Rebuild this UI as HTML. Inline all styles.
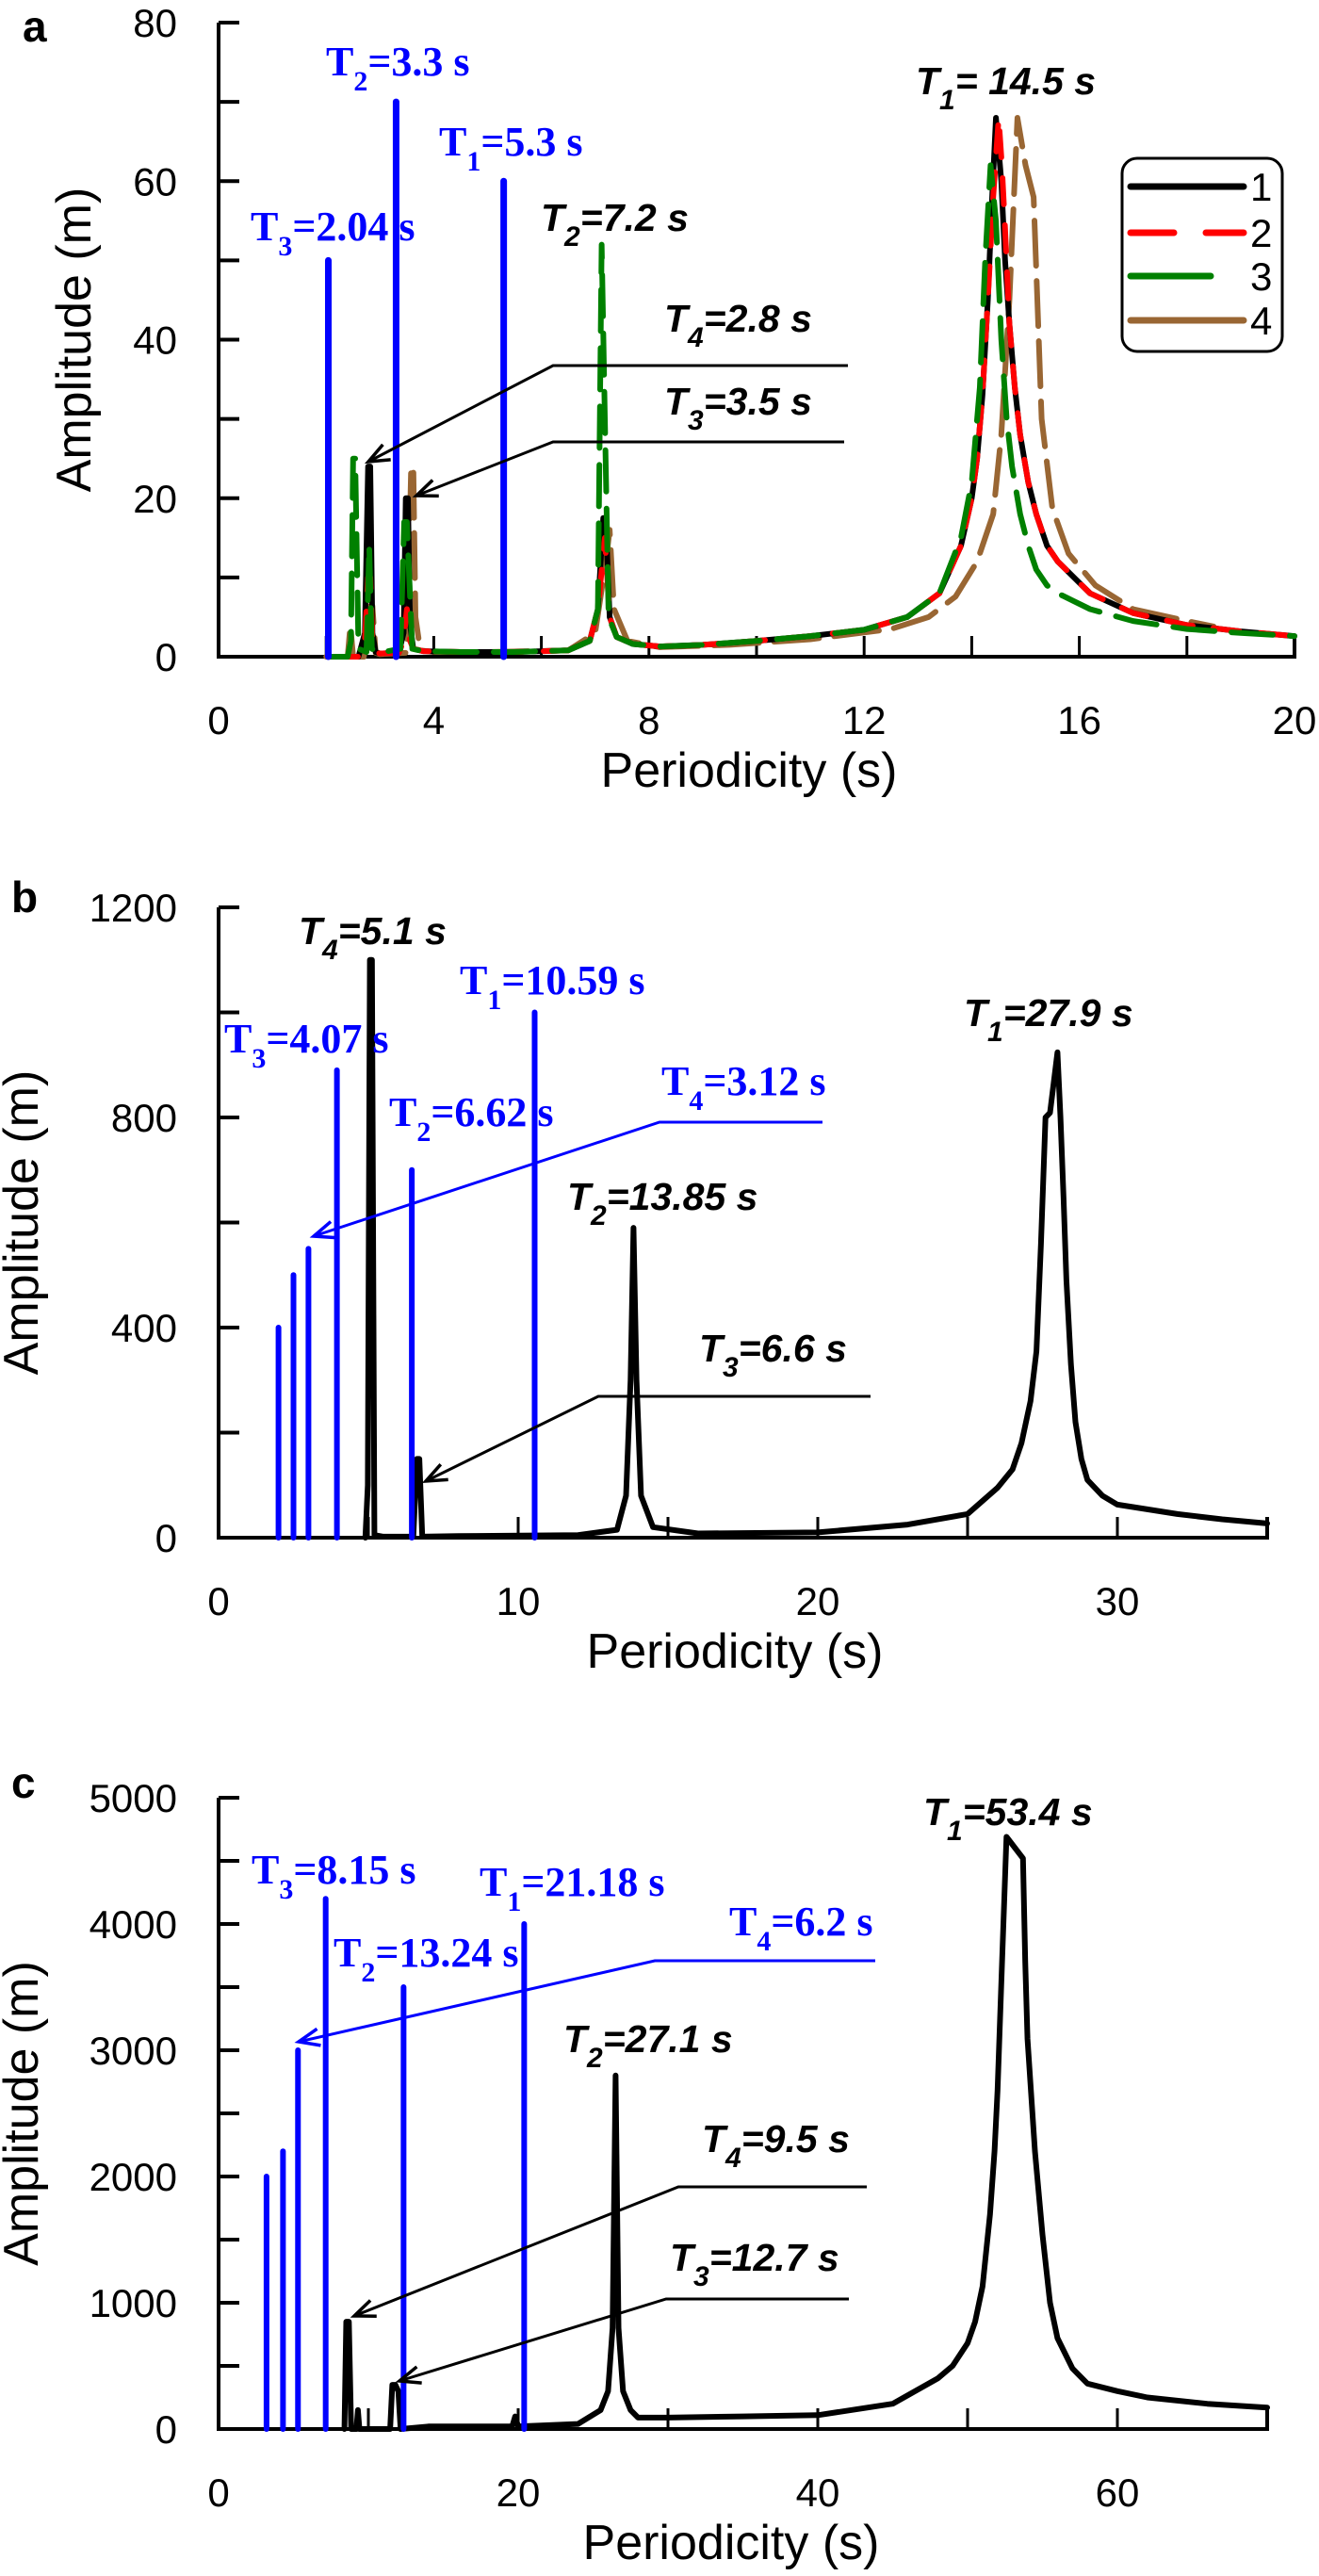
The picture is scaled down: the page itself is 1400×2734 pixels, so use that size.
<!DOCTYPE html>
<html><head><meta charset="utf-8"><title>Amplitude vs Periodicity</title>
<style>
html,body{margin:0;padding:0;background:#fff;}
svg{display:block;}
.tick{font-family:"Liberation Sans",sans-serif;font-size:42px;fill:#000;}
.title{font-family:"Liberation Sans",sans-serif;font-size:52px;fill:#000;}
.blab{font-family:"Liberation Serif",serif;font-weight:bold;font-size:44px;fill:#0000ff;}
.klab{font-family:"Liberation Sans",sans-serif;font-weight:bold;font-style:italic;font-size:41px;fill:#000;}
.plet{font-family:"Liberation Sans",sans-serif;font-weight:bold;font-size:46px;fill:#000;}
</style></head>
<body>
<svg id="fig" width="1400" height="2734" viewBox="0 0 1400 2734" xmlns="http://www.w3.org/2000/svg"></svg>
<script>
// ---------- Panel a data ----------
const aBlueP = [2.04, 3.3, 5.3];
const aBlueA = [50, 70, 60];
const a1P = [2.1,2.6,2.72,2.78,2.82,2.86,2.92,3.0,3.35,3.44,3.48,3.52,3.56,3.62,3.8,4.5,5.5,6.5,6.9,7.05,7.15,7.2,7.27,7.4,7.7,8.2,9,10,11,12,12.8,13.4,13.8,14.0,14.1,14.2,14.3,14.38,14.45,14.5,14.55,14.62,14.7,14.8,14.9,15.05,15.2,15.4,15.6,15.9,16.2,17,18,19,20];
const a1A = [0,0,3,24,24,3,0.6,0.4,0.5,3,20,20,4,1,0.7,0.6,0.6,0.8,2,6,17.5,17,5,2.5,1.6,1.3,1.5,2,2.6,3.4,5,8,14,20,25,33,45,58,68,64,60,50,42,34,28,22,18,14,12,10,8,5.5,4,3.2,2.6];
const a2P = [2.1,2.6,2.72,2.78,2.82,2.86,2.92,3.0,3.35,3.44,3.5,3.56,3.62,3.8,4.5,5.5,6.5,6.9,7.05,7.18,7.27,7.4,7.7,8.2,9,10,11,12,12.8,13.4,13.8,14.0,14.1,14.2,14.3,14.4,14.5,14.56,14.62,14.7,14.8,14.9,15.05,15.2,15.4,15.6,15.9,16.2,17,18,19,20];
const a2A = [0,0,2,10,10,2,0.6,0.4,0.5,2,6,2,1,0.7,0.6,0.6,0.8,2,6,15,5,2.5,1.6,1.3,1.5,2,2.6,3.4,5,8,14,20,25,33,45,58,68,62,54,42,34,28,22,18,14,12,10,8,5.5,4,3.2,2.6];
const a3P = [2.1,2.4,2.46,2.5,2.54,2.6,2.75,2.8,2.85,3.0,3.38,3.45,3.5,3.6,3.8,4.5,5.5,6.5,6.9,7.05,7.12,7.18,7.25,7.4,7.7,8.2,9,10,11,12,12.8,13.4,13.8,14.0,14.15,14.25,14.35,14.45,14.55,14.65,14.75,14.9,15.05,15.2,15.4,15.6,16.2,17,18,19,20];
const a3A = [0,0,2,25,25,1,0.6,14,1,0.5,1,17,17,1,0.7,0.6,0.6,0.8,2,6,52,30,5,2.5,1.6,1.3,1.5,2,2.6,3.4,5,8,15,22,34,50,62,55,40,30,24,18,14,11,9,8,6,4.5,3.5,3,2.6];
const a4P = [2.0,2.4,2.45,2.5,2.7,2.82,2.86,2.92,3.0,3.5,3.58,3.62,3.66,3.75,4.0,5.0,6.5,7.0,7.2,7.27,7.35,7.6,8.2,9.5,11,12.5,13.2,13.7,14.1,14.4,14.55,14.7,14.85,15.0,15.15,15.3,15.5,15.8,16.3,17,18,18.5];
const a4A = [0,0,4,0,0,6.4,6.4,0.5,0.3,0.5,24,24,5,0.8,0.6,0.6,0.8,3,12,16,6,2,1.2,1.5,2.2,3.5,5,7.6,12,18,28,45,68,62,58,30,18.7,13,9,6,4.5,3.8];

// ---------- Panel b data ----------
const bBlueP = [2.0, 2.5, 3.0, 3.95, 6.45, 10.55];
const bBlueA = [400, 500, 550, 890, 700, 1000];
const bP = [4.9,4.98,5.05,5.12,5.2,5.5,6.5,6.62,6.7,6.8,8,12,13.3,13.6,13.75,13.85,13.95,14.1,14.5,16,20,23,25,26,26.5,26.8,27.1,27.3,27.45,27.6,27.75,28.0,28.1,28.2,28.3,28.45,28.6,28.8,29,29.5,30,32,33.5,35];
const bA = [0,100,1100,1100,5,2,2,150,150,2,3,5,15,80,300,590,300,80,20,8,10,25,45,95,130,180,260,355,560,800,809,924,800,650,490,330,220,150,110,80,63,45,35,27];

// ---------- Panel c data ----------
const cBlueP = [3.2, 4.3, 5.3, 7.15, 12.35, 20.4];
const cBlueA = [2000, 2200, 3000, 4200, 3500, 4000];
const cP = [8.4,8.52,8.7,8.85,9.2,9.3,9.4,11.45,11.6,11.8,12.0,12.15,14,19.6,19.8,20,24,25.5,26.0,26.3,26.5,26.7,27.0,27.5,28,30,35,40,45,48,49,50,50.5,51,51.5,51.8,52,52.3,52.6,53.7,53.85,54,54.5,55,55.5,56,57,58,60,62,66,70];
const cA = [0,850,850,0,0,150,0,0,350,350,300,0,20,20,100,20,40,150,300,800,2800,800,300,150,90,90,100,110,200,400,500,680,850,1130,1700,2200,2680,3700,4690,4520,3700,3090,2200,1540,1000,720,480,360,300,250,200,170];

// tick label arrays
const aXTicks = [0,4,8,12,16,20];
const aYTicks = [0,20,40,60,80];
const bXTicks = [0,10,20,30];
const bYTicks = [0,400,800,1200];
const cXTicks = [0,20,40,60];
const cYTicks = [0,1000,2000,3000,4000,5000];

const NS = "http://www.w3.org/2000/svg";
const svg = document.getElementById('fig');
function el(tag, attrs, parent, txt){
  const e = document.createElementNS(NS, tag);
  for (const k in attrs) e.setAttribute(k, attrs[k]);
  if (txt !== undefined) e.textContent = txt;
  (parent || svg).appendChild(e);
  return e;
}
function mkScale(d0,d1,r0,r1){ return v => r0 + (v-d0)*(r1-r0)/(d1-d0); }

function axes(g, P){
  const ax = el('polyline',{points:`${P.x0},${P.y1} ${P.x0},${P.y0} ${P.x1},${P.y0} ${P.x1},${P.y0-22}`,fill:'none',stroke:'#000','stroke-width':4}, g);
  
  
  for (let v=0; v<=P.ymax+1e-9; v+=P.ystep){
    const y = P.ys(v);
    const t = el('line',{x1:P.x0,y1:y,x2:P.x0+22,y2:y,stroke:'#000','stroke-width':4}, g);
    
    
  }
  for (let v=P.xstep; v<P.xmax-1e-9; v+=P.xstep){
    const x = P.xs(v);
    const t = el('line',{x1:x,y1:P.y0,x2:x,y2:P.y0-22,stroke:'#000','stroke-width':3}, g);
    
    
  }
  P.yTicks.forEach(v=>{
    const t = el('text',{x:188,y:P.ys(v)+15,'text-anchor':'end',class:'tick'}, g, String(v));
    
    
  });
  P.xTicks.forEach(v=>{
    const t = el('text',{x:P.xs(v),y:P.y0+82,'text-anchor':'middle',class:'tick'}, g, String(v));
    
    
  });
  const xt = el('text',{x:P.xtc,y:P.y0+138,'text-anchor':'middle',class:'title'}, g, 'Periodicity (s)');
  
  
  const cy = (P.y0+P.y1)/2;
  const yt = el('text',{x:P.ytx,y:cy,'text-anchor':'middle',class:'title',transform:`rotate(-90 ${P.ytx} ${cy})`}, g, 'Amplitude (m)');
  
  
  const pl = el('text',{x:P.lx,y:P.ly,class:'plet'}, g, P.letter);
  
  
}
function bars(g, P, xs, as, w){
  xs.forEach((p,i)=>{
    const b = el('line',{x1:P.xs(p),x2:P.xs(p),y1:P.y0,y2:P.ys(as[i]),stroke:'#0000ff','stroke-width':w,'stroke-linecap':'round'}, g);
    
    
  });
}
function curve(g, P, xs, as, color, w, dash, name){
  const pts = xs.map((p,i)=>`${P.xs(p).toFixed(1)},${P.ys(as[i]).toFixed(1)}`).join(' ');
  const a = {points:pts,fill:'none',stroke:color,'stroke-width':w,'stroke-linejoin':'round','stroke-linecap':'round'};
  if (dash) a['stroke-dasharray'] = dash;
  const c = el('polyline', a, g);
  
  
}
function label(g, x, y, cls, main, sub, rest, name){
  const t = el('text',{x:x,y:y,class:cls}, g);
  
  
  el('tspan',{}, t, main);
  el('tspan',{dy:16,'font-size':30}, t, sub);
  el('tspan',{dy:-16}, t, rest);
}
function arrow(g, pts, tip, from, color, name){
  const p = el('polyline',{points:pts.map(q=>q.join(',')).join(' ')+' '+tip.join(','),fill:'none',stroke:color,'stroke-width':3}, g);
  
  
  const dx = from[0]-tip[0], dy = from[1]-tip[1], L = Math.hypot(dx,dy);
  const ux = dx/L, uy = dy/L, s = 22, h = 9;
  const hp = `${tip[0]+ux*s-uy*h},${tip[1]+uy*s+ux*h} ${tip[0]},${tip[1]} ${tip[0]+ux*s+uy*h},${tip[1]+uy*s-ux*h}`;
  const hd = el('polyline',{points:hp,fill:'none',stroke:color,'stroke-width':3.5}, g);
  
  
}

// ---------- Panel a ----------
const gA = el('g',{});  
const PA = {x0:232,x1:1374,y0:697,y1:24,xmax:20,ymax:80,xstep:2,ystep:10,xTicks:aXTicks,yTicks:aYTicks,xtc:795,ytx:96,letter:'a',lx:24,ly:44};
PA.xs = mkScale(0,20,232,1374); PA.ys = mkScale(0,80,697,24);
axes(gA, PA);
curve(gA, PA, a4P, a4A, '#996633', 6, '48 16', 'series-4-curve');
curve(gA, PA, a1P, a1A, '#000', 6, null, 'series-1-curve');
curve(gA, PA, a2P, a2A, '#ff0000', 6, '28 22', 'series-2-curve');
curve(gA, PA, a3P, a3A, '#008000', 6, '44 18', 'series-3-curve');
bars(gA, PA, aBlueP, aBlueA, 7);
label(gA, 266, 255, 'blab', 'T', '3', '=2.04 s', 'label-a-t3-blue');
label(gA, 346, 80, 'blab', 'T', '2', '=3.3 s', 'label-a-t2-blue');
label(gA, 466, 165, 'blab', 'T', '1', '=5.3 s', 'label-a-t1-blue');
label(gA, 574, 245, 'klab', 'T', '2', '=7.2 s', 'label-a-t2');
label(gA, 705, 352, 'klab', 'T', '4', '=2.8 s', 'label-a-t4');
label(gA, 705, 440, 'klab', 'T', '3', '=3.5 s', 'label-a-t3');
label(gA, 972, 100, 'klab', 'T', '1', '= 14.5 s', 'label-a-t1');
arrow(gA, [[900,388],[587,388]], [391,490], [587,388], '#000', 'arrow-a-t4');
arrow(gA, [[896,469],[587,469]], [442,526], [587,469], '#000', 'arrow-a-t3');
// legend
const lg = el('g',{}, gA);  
el('rect',{x:1191,y:168,width:170,height:205,rx:16,fill:'#fff',stroke:'#000','stroke-width':3}, lg);
const legC = ['#000','#ff0000','#008000','#996633'];
const legD = [null,'46 34',null,null];
const legEnd = [1320,1320,1285,1320];
const legY = [198,247,293,340];
legC.forEach((c,i)=>{
  const a = {x1:1200,x2:legEnd[i],y1:legY[i],y2:legY[i],stroke:c,'stroke-width':7,'stroke-linecap':'round'};
  if (legD[i]) a['stroke-dasharray'] = legD[i];
  const l = el('line',a,lg);
  
  
  const t = el('text',{x:1327,y:legY[i]+15,class:'tick'},lg,String(i+1));
  
  
});

// ---------- Panel b ----------
const gB = el('g',{});  
const PB = {x0:232,x1:1345,y0:1632,y1:963,xmax:35,ymax:1200,xstep:5,ystep:200,xTicks:bXTicks,yTicks:bYTicks,xtc:780,ytx:40,letter:'b',lx:12,ly:968};
PB.xs = mkScale(0,35,232,1345); PB.ys = mkScale(0,1200,1632,963);
axes(gB, PB);
curve(gB, PB, bP, bA, '#000', 6, null, 'response-curve-b');
bars(gB, PB, bBlueP, bBlueA, 6);
label(gB, 317, 1002, 'klab', 'T', '4', '=5.1 s', 'label-b-t4');
label(gB, 238, 1117, 'blab', 'T', '3', '=4.07 s', 'label-b-t3-blue');
label(gB, 413, 1195, 'blab', 'T', '2', '=6.62 s', 'label-b-t2-blue');
label(gB, 488, 1055, 'blab', 'T', '1', '=10.59 s', 'label-b-t1-blue');
label(gB, 702, 1162, 'blab', 'T', '4', '=3.12 s', 'label-b-t4-blue');
label(gB, 602, 1284, 'klab', 'T', '2', '=13.85 s', 'label-b-t2');
label(gB, 742, 1445, 'klab', 'T', '3', '=6.6 s', 'label-b-t3');
label(gB, 1023, 1089, 'klab', 'T', '1', '=27.9 s', 'label-b-t1');
arrow(gB, [[873,1191],[700,1191]], [333,1312], [700,1191], '#0000ff', 'arrow-b-t4');
arrow(gB, [[924,1482],[635,1482]], [452,1572], [635,1482], '#000', 'arrow-b-t3');

// ---------- Panel c ----------
const gC = el('g',{});  
const PC = {x0:232,x1:1345,y0:2578,y1:1908,xmax:70,ymax:5000,xstep:10,ystep:500,xTicks:cXTicks,yTicks:cYTicks,xtc:776,ytx:40,letter:'c',lx:12,ly:1908};
PC.xs = mkScale(0,70,232,1345); PC.ys = mkScale(0,5000,2578,1908);
axes(gC, PC);
curve(gC, PC, cP, cA, '#000', 6, null, 'response-curve-c');
bars(gC, PC, cBlueP, cBlueA, 6);
label(gC, 267, 1999, 'blab', 'T', '3', '=8.15 s', 'label-c-t3-blue');
label(gC, 509, 2012, 'blab', 'T', '1', '=21.18 s', 'label-c-t1-blue');
label(gC, 354, 2087, 'blab', 'T', '2', '=13.24 s', 'label-c-t2-blue');
label(gC, 774, 2054, 'blab', 'T', '4', '=6.2 s', 'label-c-t4-blue');
label(gC, 598, 2178, 'klab', 'T', '2', '=27.1 s', 'label-c-t2');
label(gC, 745, 2284, 'klab', 'T', '4', '=9.5 s', 'label-c-t4');
label(gC, 711, 2410, 'klab', 'T', '3', '=12.7 s', 'label-c-t3');
label(gC, 980, 1937, 'klab', 'T', '1', '=53.4 s', 'label-c-t1');
arrow(gC, [[929,2081],[695,2081]], [317,2167], [695,2081], '#0000ff', 'arrow-c-t4-blue');
arrow(gC, [[920,2321],[720,2321]], [376,2458], [720,2321], '#000', 'arrow-c-t4');
arrow(gC, [[901,2440],[707,2440]], [424,2527], [707,2440], '#000', 'arrow-c-t3');
</script>
</body></html>
